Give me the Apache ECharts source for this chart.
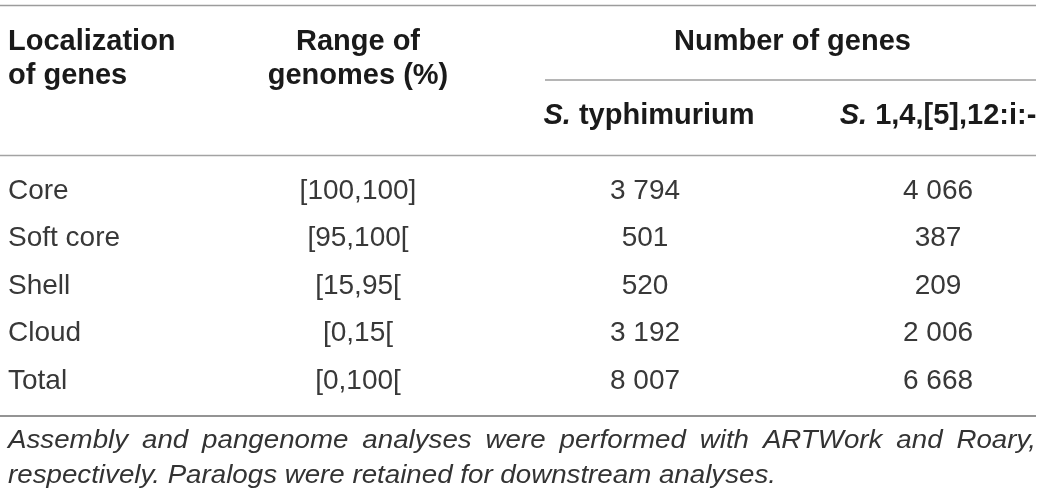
<!DOCTYPE html>
<html>
<head>
<meta charset="utf-8">
<script src="https://cdn.jsdelivr.net/npm/echarts@6/dist/echarts.min.js"></script>
<style>
  html, body { margin: 0; padding: 0; background: #fff; }
  #main { width: 1042px; height: 502px; }
</style>
</head>
<body>
<div id="main"></div>
<script>
// table data
const localization = ['Core', 'Soft core', 'Shell', 'Cloud', 'Total'];
const genomeRange = ['[100,100]', '[95,100[', '[15,95[', '[0,15[', '[0,100['];
const typhimurium = [3794, 501, 520, 3192, 8007];
const monophasic = [4066, 387, 209, 2006, 6668];

const footLine1 = 'Assembly and pangenome analyses were performed with ARTWork and Roary,';
const footLine2 = 'respectively. Paralogs were retained for downstream analyses.';

// layout
const FONT = '"Liberation Sans", Arial, Helvetica, sans-serif';
const COL_X = [8, 358, 645, 938];
const COL_ALIGN = ['left', 'center', 'center', 'center'];
const LEFT = 8, RIGHT = 1036;

// 3 794 style thousands separator
function fmt(n) {
  return String(n).replace(/\B(?=(\d{3})+(?!\d))/g, ' ');
}

function cellText(col, i) {
  if (col === 0) return localization[i];
  if (col === 1) return genomeRange[i];
  if (col === 2) return fmt(typhimurium[i]);
  return fmt(monophasic[i]);
}

let myChart = echarts.init(document.getElementById('main'));

// header
const headStyle = { fontFamily: FONT, fontSize: 29, fontWeight: 'bold', fill: '#1a1a1a' };
function headText(text, x, y, align, rich) {
  return {
    type: 'text', x: x, y: y,
    style: Object.assign({ text: text, align: align, verticalAlign: 'middle', rich: rich }, headStyle)
  };
}
const italicRich = { i: { fontStyle: 'italic', fontWeight: 'bold', fontSize: 29, fontFamily: FONT, fill: '#1a1a1a' },
                     n: { fontWeight: 'bold', fontSize: 29, fontFamily: FONT, fill: '#1a1a1a' } };

function hLine(x1, x2, y, color) {
  return { type: 'line', shape: { x1: x1, y1: y, x2: x2, y2: y }, style: { stroke: color, lineWidth: 1.6 } };
}

// footnote: condensed italic, first line justified
const footFont = 'italic 26px ' + FONT;
const ctx = document.createElement('canvas').getContext('2d');
ctx.font = footFont;
const footScale = (776 - LEFT) / ctx.measureText(footLine2).width;
const words = footLine1.split(' ');
const wordW = words.map(w => ctx.measureText(w).width * footScale);
const gap = (RIGHT - LEFT - wordW.reduce((a, b) => a + b, 0)) / (words.length - 1);
const foot = [];
let fx = LEFT;
words.forEach((w, k) => {
  foot.push({ type: 'text', x: fx, y: 441, scaleX: footScale,
    style: { text: w, font: footFont, fill: '#333', align: 'left', verticalAlign: 'middle' } });
  fx += wordW[k] + gap;
});
foot.push({ type: 'text', x: LEFT, y: 476, scaleX: footScale,
  style: { text: footLine2, font: footFont, fill: '#333', align: 'left', verticalAlign: 'middle' } });

let option = {
  animation: false,
  grid: { left: 0, right: 0, top: 167.25, bottom: 97.25 },
  xAxis: { type: 'value', min: 0, max: 1042, show: false },
  yAxis: { type: 'category', data: localization, inverse: true, show: false },
  graphic: [
    hLine(0, RIGHT, 5.5, '#9c9c9c'),
    hLine(545, RIGHT, 80, '#9c9c9c'),
    hLine(0, RIGHT, 155.5, '#a3a3a3'),
    hLine(0, RIGHT, 416, '#707070'),
    headText('Localization', LEFT, 42, 'left'),
    headText('of genes', LEFT, 76, 'left'),
    headText('Range of', COL_X[1], 42, 'center'),
    headText('genomes (%)', COL_X[1], 76, 'center'),
    headText('Number of genes', (COL_X[2] + COL_X[3]) / 2 + 1, 42, 'center'),
    headText('{i|S.}{n| typhimurium}', 649, 116, 'center', italicRich),
    headText('{i|S.}{n| 1,4,[5],12:i:-}', COL_X[3], 116, 'center', italicRich)
  ].concat(foot),
  series: [{
    type: 'custom',
    data: localization.map((name, i) => [0, i]),
    encode: { x: 0, y: 1 },
    renderItem: function (params, api) {
      const i = params.dataIndex;
      const y = api.coord([0, i])[1];
      const children = COL_X.map((cx, col) => ({
        type: 'text',
        x: api.coord([cx, i])[0],
        y: y,
        style: {
          text: cellText(col, i),
          fontFamily: FONT, fontSize: 28, fill: '#383838',
          align: COL_ALIGN[col], verticalAlign: 'middle'
        }
      }));
      return { type: 'group', children: children };
    }
  }]
};

myChart.setOption(option);
</script>
</body>
</html>
